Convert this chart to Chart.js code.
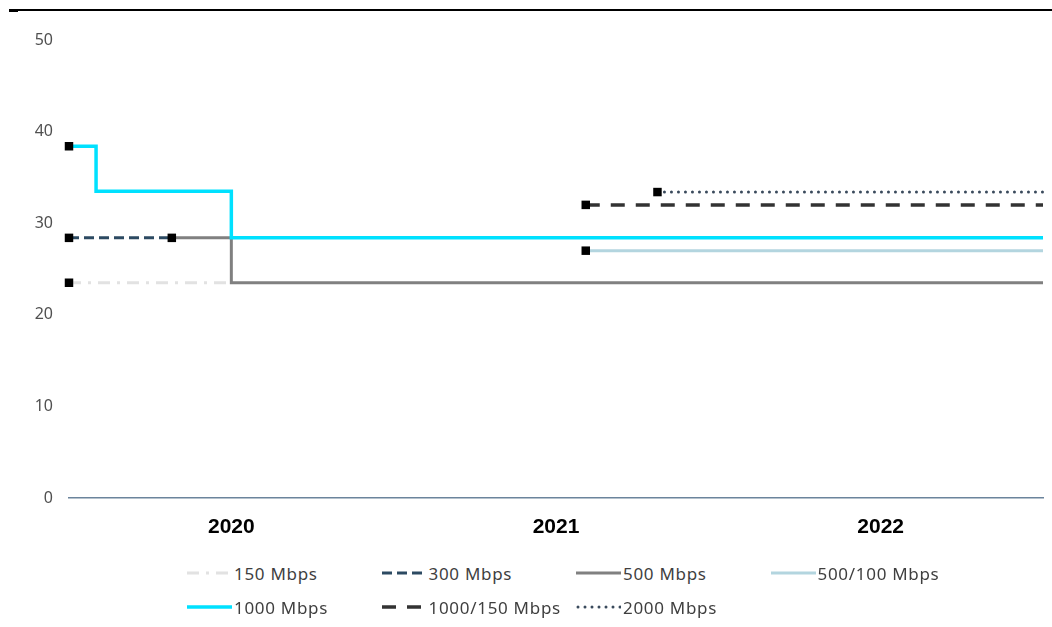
<!DOCTYPE html>
<html>
<head>
<meta charset="utf-8">
<script src="https://cdn.jsdelivr.net/npm/chart.js@4.4.1/dist/chart.umd.min.js"></script>
<style>
  html, body { margin: 0; padding: 0; background: #fff; }
  body { width: 1052px; height: 627px; position: relative; overflow: hidden; }
  #rule { position: absolute; left: 9px; right: 0; top: 9px; height: 1.5px; background: #000; }
  #ruleMark { position: absolute; left: 9px; top: 9px; width: 9px; height: 3px; background: #000; }
  #wrap { position: absolute; left: 0; top: 0; width: 1052px; height: 555px; }
  #legend {
    position: absolute; left: 187px; top: 556px;
    display: grid; grid-template-columns: repeat(4, 194.5px); grid-auto-rows: 34px;
    font-family: "Noto Sans", sans-serif; font-size: 17px; letter-spacing: 0.7px; color: #3f3f3f;
  }
  #legend .item { display: flex; align-items: center; white-space: nowrap; }
  #legend canvas { margin-right: 2px; }
</style>
</head>
<body>
<div id="rule"></div>
<div id="ruleMark"></div>
<div id="wrap"><canvas id="chart"></canvas></div>
<div id="legend"></div>
<script>
// Months counted from January 2020; the axis spans three years.
const yearLabels = ['2020', '2021', '2022'];

const seriesNames = ['150 Mbps', '300 Mbps', '500 Mbps', '500/100 Mbps', '1000 Mbps', '1000/150 Mbps', '2000 Mbps'];

const months150 = [0, 6];
const price150 = [23.5, 23.5];

const months300 = [0, 3.8];
const price300 = [28.4, 28.4];

const months500 = [3.8, 6, 36];
const price500 = [28.4, 23.5, 23.5];

const months500_100 = [19.1, 36];
const price500_100 = [27.0, 27.0];

const months1000 = [0, 1, 6, 36];
const price1000 = [38.4, 33.5, 28.4, 28.4];

const months1000_150 = [19.1, 36];
const price1000_150 = [32.0, 32.0];

const months2000 = [21.75, 36];
const price2000 = [33.4, 33.4];

function points(months, values) {
  return months.map((m, i) => ({ x: m, y: values[i] }));
}
// A black square marks where each tariff first appears.
function startMarker(values) {
  return values.map((_, i) => (i === 0 ? 6 : 0));
}

function series(label, months, values, style) {
  return Object.assign({
    label,
    data: points(months, values),
    borderWidth: 3,
    pointRadius: startMarker(values),
    pointHoverRadius: startMarker(values),
    pointStyle: 'rect',
    pointBackgroundColor: '#000',
    pointBorderColor: '#000',
    pointBorderWidth: 0,
    fill: false,
    tension: 0,
    clip: false
  }, style);
}

// Price holds until the next point, then steps to the new level.
const datasets = [
  series(seriesNames[0], months150, price150, { borderColor: '#e2e2e2', borderDash: [12, 7, 3, 7], order: 6 }),
  series(seriesNames[1], months300, price300, { borderColor: '#2c4a62', borderDash: [10, 5], order: 4 }),
  series(seriesNames[2], months500, price500, { borderColor: '#808080', stepped: 'before', order: 3 }),
  series(seriesNames[3], months500_100, price500_100, { borderColor: '#b3d5df', order: 5 }),
  series(seriesNames[4], months1000, price1000, { borderColor: '#00e1ff', borderWidth: 3.5, stepped: 'before', order: 2 }),
  series(seriesNames[5], months1000_150, price1000_150, { borderColor: '#333333', borderDash: [14, 11], borderWidth: 3.5, order: 1 }),
  series(seriesNames[6], months2000, price2000, { borderColor: '#3a4a5c', borderDash: [0, 7], borderCapStyle: 'round', order: 0 })
];

// Legend laid out in aligned columns underneath the plot.
const htmlLegend = {
  id: 'htmlLegend',
  afterUpdate(chart) {
    const box = document.getElementById('legend');
    box.innerHTML = '';
    chart.data.datasets.forEach(ds => {
      const item = document.createElement('div');
      item.className = 'item';
      const sw = document.createElement('canvas');
      sw.width = 45; sw.height = 12;
      const g = sw.getContext('2d');
      g.strokeStyle = ds.borderColor;
      g.lineWidth = ds.borderWidth;
      g.lineCap = ds.borderCapStyle || 'butt';
      g.setLineDash(ds.borderDash || []);
      g.beginPath();
      const x0 = g.lineCap === 'round' ? 2 : 0;
      g.moveTo(x0, 6);
      g.lineTo(45, 6);
      g.stroke();
      const txt = document.createElement('span');
      txt.textContent = ds.label;
      item.appendChild(sw);
      item.appendChild(txt);
      box.appendChild(item);
    });
  }
};

new Chart(document.getElementById('chart'), {
  type: 'line',
  data: { datasets },
  plugins: [htmlLegend],
  options: {
    responsive: true,
    maintainAspectRatio: false,
    animation: false,
    layout: { padding: { top: 40, right: 9, left: 0, bottom: 0 } },
    plugins: {
      legend: { display: false },
      tooltip: { enabled: false }
    },
    scales: {
      x: {
        type: 'linear',
        min: 0,
        max: 36,
        afterBuildTicks(scale) {
          scale.ticks = yearLabels.map((_, i) => ({ value: 6 + 12 * i }));
        },
        afterFit(scale) { scale.height = 57; },
        grid: { display: false, drawTicks: false },
        border: { display: true, color: '#6b849c', width: 1.5 },
        ticks: {
          padding: 17,
          color: '#000',
          font: { family: '"Liberation Sans", Arial, sans-serif', size: 21, weight: 'bold' },
          callback: (v) => yearLabels[Math.round((v - 6) / 12)]
        }
      },
      y: {
        min: 0,
        max: 50,
        afterFit(scale) { scale.width = 69; },
        grid: { display: false, drawTicks: false },
        border: { display: false },
        ticks: {
          stepSize: 10,
          padding: 16,
          color: '#505050',
          font: { family: '"Noto Sans", sans-serif', size: 16 }
        }
      }
    }
  }
});
</script>
</body>
</html>
